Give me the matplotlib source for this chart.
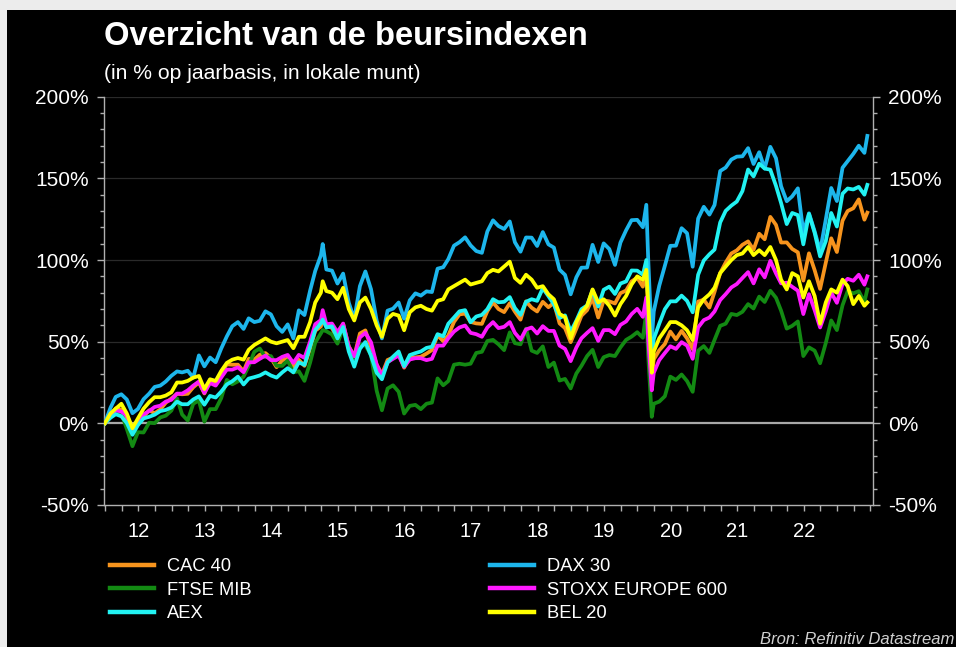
import numpy as np
import pandas as pd
import matplotlib
matplotlib.use("Agg")
import matplotlib.pyplot as plt
from matplotlib.patches import Rectangle
from matplotlib.lines import Line2D
from matplotlib.ticker import FixedLocator, MultipleLocator, FuncFormatter

# ---------------- data (% change since end 2011) ----------------
month_ends = pd.date_range("2011-12-31", "2023-05-31", freq="ME")
extra_dates = pd.to_datetime(["2015-04-10", "2020-02-19", "2020-03-20", "2023-06-16"])
dates = month_ends.append(extra_dates).sort_values()

cac40 = [0,
 4.4, 9.2, 8.4, 1.7, -6.0, 1.2, 4.1, 8.0, 6.2, 8.5, 12.6, 15.2,
 18.1, 17.8, 18.1, 22.1, 25.0, 18.3, 26.4, 24.5, 31.1, 36.1, 35.9, 35.9,
 31.8, 39.5, 39.0, 42.0, 43.0, 40.0, 34.4, 38.6, 39.7, 34.0, 38.9, 35.2,
 45.7, 56.7, 59.3, 65.8, 59.7, 58.4, 51.6, 60.9, 47.2, 41.0, 55.0, 56.9, 46.7,
 36.0, 30.0, 38.8, 40.2, 42.6, 34.1, 40.5, 40.4, 40.8, 42.7, 44.9, 53.9,
 50.3, 53.8, 62.1, 66.7, 67.2, 62.1, 61.2, 60.9, 68.7, 74.1, 70.0, 68.1,
 73.5, 68.4, 63.5, 74.7, 70.8, 68.5, 74.4, 71.1, 73.8, 61.2, 58.3, 49.7,
 58.0, 65.9, 69.3, 76.8, 64.8, 75.3, 74.7, 73.4, 79.7, 81.3, 86.9, 89.2,
 83.7, 93.4, 68.0, 28.1, 39.1, 44.7, 48.6, 56.2, 51.4, 56.6, 52.0, 45.4, 74.6, 75.7,
 70.9, 80.5, 92.0, 98.4, 104.0, 105.9, 109.3, 111.4, 106.3, 116.1, 112.7, 126.4,
 121.5, 110.7, 110.8, 106.8, 104.7, 87.4, 104.1, 93.8, 82.3, 98.3, 113.3, 104.9,
 124.1, 130.0, 131.7, 137.1, 124.7, 129.0]

dax30 = [0,
 9.5, 16.2, 17.8, 14.6, 6.2, 8.8, 14.8, 18.2, 22.3, 23.1, 25.6, 29.1,
 31.8, 31.2, 32.2, 28.0, 41.6, 34.9, 40.3, 37.4, 45.7, 53.2, 59.5, 62.0,
 57.8, 64.3, 62.0, 62.8, 68.6, 66.7, 59.5, 56.0, 60.6, 52.0, 69.2, 66.3,
 81.3, 93.3, 102.9, 109.8, 94.2, 93.5, 85.6, 91.7, 73.9, 63.8, 84.0, 93.0, 82.1,
 63.0, 52.0, 69.0, 70.2, 74.0, 64.1, 75.3, 79.6, 78.2, 80.8, 80.4, 94.7,
 95.6, 100.6, 108.8, 110.9, 113.9, 109.0, 105.5, 104.4, 117.5, 124.3, 120.8, 119.0,
 123.6, 110.9, 105.1, 113.8, 113.7, 108.6, 117.1, 109.6, 107.6, 94.1, 90.9, 79.0,
 89.4, 95.3, 95.4, 109.3, 98.8, 110.2, 106.7, 97.0, 110.7, 118.2, 124.4, 124.6,
 120.1, 133.8, 101.6, 51.4, 68.5, 84.2, 96.5, 108.7, 108.8, 119.5, 116.4, 95.9, 125.4, 132.6,
 127.8, 133.7, 154.5, 156.6, 161.5, 163.3, 163.5, 168.5, 158.8, 166.0, 156.0, 169.3,
 162.3, 145.2, 136.0, 139.0, 143.9, 116.8, 128.6, 117.6, 105.4, 124.7, 144.1, 136.1,
 156.5, 160.5, 165.0, 170.0, 165.6, 176.0]

ftse_mib = [0,
 5.1, 8.3, 5.9, -3.4, -14.0, -5.4, -5.6, 0.4, 0.1, 3.6, 4.7, 7.8,
 15.3, 5.4, 1.7, 12.0, 14.0, 1.0, 8.7, 8.7, 15.3, 26.6, 23.9, 25.7,
 28.6, 35.2, 43.8, 45.8, 40.5, 41.2, 35.2, 35.2, 38.5, 31.2, 31.9, 26.0,
 37.2, 49.4, 55.1, 57.1, 56.4, 54.4, 48.8, 58.4, 45.8, 39.8, 48.4, 47.8, 41.9,
 20.0, 8.0, 21.3, 23.3, 19.3, 6.0, 10.7, 11.3, 8.7, 12.0, 12.7, 27.5,
 23.3, 25.9, 35.9, 36.5, 35.9, 36.5, 43.1, 43.8, 50.4, 51.1, 48.4, 44.8,
 55.7, 49.1, 48.4, 58.0, 44.5, 43.1, 47.1, 34.5, 37.2, 26.2, 27.2, 21.4,
 30.5, 35.2, 41.2, 45.0, 34.5, 40.5, 41.8, 41.2, 46.5, 51.1, 53.1, 55.8,
 52.4, 68.3, 41.8, 4.0, 12.0, 13.3, 16.6, 28.6, 26.6, 29.9, 25.9, 19.3, 44.5, 47.3,
 43.1, 51.1, 59.7, 61.0, 67.0, 66.3, 68.3, 73.0, 70.3, 77.6, 74.3, 81.2,
 76.9, 69.0, 58.0, 59.7, 62.4, 41.2, 46.5, 44.5, 36.8, 49.1, 63.0, 57.1,
 72.3, 80.9, 79.6, 80.9, 74.3, 82.0]

stoxx600 = [0,
 3.9, 8.0, 7.2, 4.7, -3.0, 1.8, 5.5, 7.6, 10.0, 10.8, 13.3, 14.4,
 18.2, 18.2, 20.2, 23.1, 25.6, 18.6, 24.7, 23.1, 28.0, 32.9, 32.9, 34.3,
 31.3, 37.4, 37.4, 39.5, 41.5, 38.7, 38.7, 40.7, 41.9, 37.0, 41.9, 40.1,
 50.1, 60.7, 63.2, 69.3, 60.7, 61.1, 55.8, 61.1, 46.8, 41.1, 52.6, 55.4, 49.6,
 36.0, 29.0, 37.4, 39.5, 41.5, 34.6, 39.1, 39.9, 39.9, 38.7, 39.5, 47.6,
 47.6, 52.1, 56.2, 58.7, 59.9, 55.4, 54.6, 53.0, 58.7, 62.0, 58.3, 59.1,
 62.0, 55.4, 51.3, 57.5, 58.7, 55.0, 59.5, 56.6, 56.6, 47.6, 45.6, 38.1,
 46.4, 52.1, 55.4, 58.3, 50.5, 57.1, 57.1, 54.6, 60.3, 62.4, 66.9, 70.1,
 65.2, 77.1, 51.7, 20.2, 30.9, 38.7, 43.1, 47.2, 45.6, 49.7, 47.6, 39.5, 58.7, 63.2,
 64.8, 68.5, 75.5, 79.1, 83.2, 85.3, 89.0, 92.6, 85.7, 94.3, 89.4, 99.5,
 91.8, 85.7, 86.1, 83.6, 81.2, 66.9, 79.1, 69.3, 58.7, 68.5, 80.0, 73.8,
 85.3, 88.5, 87.3, 91.0, 84.9, 90.0]

aex = [0,
 3.4, 5.6, 4.3, 0.2, -7.0, -1.1, 3.0, 4.0, 5.3, 7.5, 8.2, 9.7,
 13.3, 11.7, 11.7, 14.6, 16.5, 11.4, 16.8, 15.8, 19.4, 23.8, 25.8, 28.6,
 23.8, 27.4, 28.3, 29.3, 31.2, 29.3, 28.0, 31.2, 33.8, 31.2, 37.3, 35.8,
 47.2, 57.1, 61.3, 63.5, 58.7, 59.4, 52.0, 59.0, 44.0, 34.7, 45.6, 49.8, 41.4,
 31.0, 27.0, 37.3, 40.8, 44.0, 35.0, 41.8, 43.0, 44.0, 46.2, 46.9, 54.6,
 53.3, 61.0, 64.8, 68.6, 69.3, 61.9, 65.4, 66.4, 69.9, 76.0, 74.1, 74.4,
 77.3, 70.6, 66.4, 74.4, 76.0, 75.0, 82.7, 77.9, 72.8, 64.5, 66.1, 56.1,
 62.9, 69.9, 72.2, 81.4, 71.5, 81.8, 83.7, 79.2, 85.6, 86.9, 93.6, 93.5,
 91.0, 100.0, 76.0, 37.0, 51.7, 61.0, 69.9, 74.7, 74.7, 78.2, 75.0, 68.0, 91.0, 99.7,
 103.5, 106.4, 123.0, 130.1, 133.3, 135.8, 142.2, 155.4, 151.2, 159.0, 156.0, 155.3,
 145.4, 134.9, 122.0, 128.8, 127.5, 109.6, 128.2, 116.6, 102.2, 111.5, 128.8, 120.5,
 140.6, 143.8, 143.2, 144.8, 140.0, 146.0]

bel20 = [0,
 6, 9, 12, 6, -3, 3, 9, 13, 16, 16, 17, 19,
 25, 25, 26, 28, 29, 21, 27, 26, 32, 37, 39, 40,
 39, 45, 48, 50, 52, 50, 49, 50, 51, 46, 53, 53,
 62, 74, 80, 87, 81, 80, 76, 83, 70, 63, 74, 77, 70,
 60, 53, 64, 67, 66, 57, 68, 71, 72, 70, 69, 75,
 76, 82, 84, 86, 88, 85, 86, 87, 92, 94, 93, 96,
 99, 89, 86, 91, 88, 83, 84, 79, 76, 67, 65, 52,
 62, 68, 72, 82, 74, 76, 72, 66, 73, 78, 85, 90,
 88, 94, 74, 31, 44, 52, 57, 62, 62, 60, 57, 51, 71, 76,
 79, 83, 92, 96, 100, 103, 104, 108, 103, 106, 103, 108,
 100, 88, 82, 92, 90, 77, 87, 78, 61, 74, 82, 80,
 88, 84, 73, 78, 72, 74]

series_names = ["CAC 40", "FTSE MIB", "AEX", "DAX 30", "STOXX EUROPE 600", "BEL 20"]
year_labels = ["12", "13", "14", "15", "16", "17", "18", "19", "20", "21", "22"]
y_ticks = [-50, 0, 50, 100, 150, 200]

# ---------------- figure ----------------
W, H = 956, 647
plt.rcParams["font.family"] = ["Liberation Sans", "DejaVu Sans"]
fig = plt.figure(figsize=(W / 100, H / 100), dpi=100)
fig.patch.set_facecolor("#ececec")
bg = Rectangle((7 / W, 0), 1, 1 - 10 / H, transform=fig.transFigure,
               facecolor="black", edgecolor="none", zorder=-10)
fig.patches.append(bg)


def fx(x):
    return x / W


def fy(y):
    return 1 - y / H


ax = fig.add_axes([fx(104), fy(505), fx(873) - fx(104), fy(96.7) - fy(505)])
ax.set_zorder(5)
ax.set_facecolor("black")

t = dates.year + (dates.dayofyear - 1) / np.where(dates.is_leap_year, 366, 365)

colors = {
    "CAC 40": "#f7941d",
    "FTSE MIB": "#138a13",
    "DAX 30": "#1db6ec",
    "STOXX EUROPE 600": "#ff19ff",
    "AEX": "#22f2f2",
    "BEL 20": "#ffff00",
}
data = {
    "CAC 40": cac40, "FTSE MIB": ftse_mib, "AEX": aex,
    "DAX 30": dax30, "STOXX EUROPE 600": stoxx600, "BEL 20": bel20,
}
draw_order = ["CAC 40", "FTSE MIB", "DAX 30", "STOXX EUROPE 600", "AEX", "BEL 20"]

# grid + zero line
for v in [50, 100, 150, 200]:
    ax.axhline(v, color="#2a2a2a", lw=0.9, zorder=1)
ax.axhline(0, color="#a8a8a8", lw=1.6, zorder=2)

for i, name in enumerate(draw_order):
    ax.plot(t, data[name], color=colors[name], lw=2.7, zorder=3 + i,
            solid_joinstyle="round")

ax.set_ylim(-50, 200)
ax.set_xlim(2011.985, 2023.54)

# spines
for s in ["left", "right", "bottom"]:
    ax.spines[s].set_color("#b0b0b0")
    ax.spines[s].set_linewidth(1.0)
ax.spines["top"].set_visible(False)

# y ticks both sides
ax.yaxis.set_major_locator(FixedLocator(y_ticks))
ax.yaxis.set_minor_locator(MultipleLocator(10))
ax.yaxis.set_major_formatter(FuncFormatter(lambda v, p: f"{int(v)}%"))
ax.tick_params(axis="y", which="both", left=True, right=True, labelleft=True,
               labelright=True, direction="out", colors="#b0b0b0",
               labelcolor="white", labelsize=15)
ax.tick_params(axis="y", which="major", length=5, width=1, pad=6)
ax.tick_params(axis="y", which="minor", length=3, width=1)

# x ticks: labels at mid-year, small ticks at quarters
mid = [2012.5 + i for i in range(len(year_labels))]
ax.set_xticks(mid)
ax.set_xticklabels(year_labels)
quarters = [2012 + q * 0.25 for q in range(0, 47)]
quarters = [q for q in quarters if not any(abs(q - m) < 1e-6 for m in mid)]
ax.xaxis.set_minor_locator(FixedLocator(quarters))
ax.tick_params(axis="x", which="both", direction="out", colors="#b0b0b0",
               labelcolor="white", labelsize=14.5, length=4, width=1, pad=8)

# titles
fig.text(fx(104), fy(45), "Overzicht van de beursindexen", color="white",
         fontsize=23.6, fontweight="bold", va="baseline", ha="left")
fig.text(fx(104), fy(79), "(in % op jaarbasis, in lokale munt)", color="white",
         fontsize=15.2, va="baseline", ha="left")

# legends (two columns)
handles = {n: Line2D([], [], color=colors[n], lw=3.2) for n in series_names}
leg_kw = dict(frameon=False, fontsize=13.2, handlelength=2.4, handletextpad=0.7,
              labelspacing=0.36, borderpad=0, borderaxespad=0, labelcolor="white",
              loc="upper left")
left_names = ["CAC 40", "FTSE MIB", "AEX"]
right_names = ["DAX 30", "STOXX EUROPE 600", "BEL 20"]
fig.legend([handles[n] for n in left_names], left_names,
           bbox_to_anchor=(fx(110), fy(558)), **leg_kw)
fig.legend([handles[n] for n in right_names], right_names,
           bbox_to_anchor=(fx(490), fy(558)), **leg_kw)

fig.text(fx(760), fy(639), "Bron: Refinitiv Datastream", color="#d0d0d0",
         fontsize=12, style="italic", va="center", ha="left")

fig.savefig("out.png", dpi=100, facecolor=fig.get_facecolor())
